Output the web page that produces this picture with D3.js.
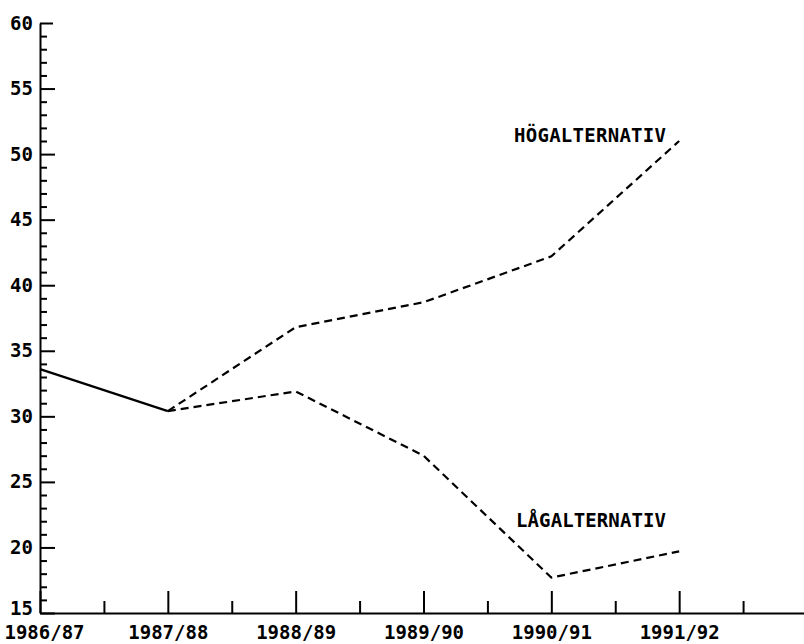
<!DOCTYPE html>
<html>
<head>
<meta charset="utf-8">
<script src="https://cdn.jsdelivr.net/npm/d3@7"></script>
<style>
  body { margin: 0; background: #fff; }
  svg text { font-family: "DejaVu Sans Mono", monospace; font-weight: bold; fill: #000; }
  .axis path, .axis line { stroke: #000; stroke-width: 2px; }
</style>
</head>
<body>
<svg width="804" height="644"></svg>
<script>
// values
var years = ["1986/87", "1987/88", "1988/89", "1989/90", "1990/91", "1991/92"];
var actual = [33.6, 30.4];
var hog = [null, 30.4, 36.8, 38.7, 42.2, 51.0];
var lag = [null, 30.4, 31.9, 27.0, 17.7, 19.7];
var yTicks = [15, 20, 25, 30, 35, 40, 45, 50, 55, 60];

var svg = d3.select("svg");

var x = d3.scaleLinear().domain([0, 6]).range([40, 807]),
    y = d3.scaleLinear().domain([15, 60]).range([613, 23]);

// minor ticks first
svg.append("g")
    .attr("class", "axis")
    .attr("transform", "translate(0,613)")
    .call(d3.axisBottom(x).tickValues(d3.range(0.5, 6, 1)).tickSizeInner(-12).tickSizeOuter(0).tickFormat(""))
    .select(".domain").remove();

svg.append("g")
    .attr("class", "axis")
    .attr("transform", "translate(40,0)")
    .call(d3.axisLeft(y).tickValues(d3.range(16, 60, 1).filter(function (v) { return v % 5 !== 0; }))
        .tickSizeInner(-7).tickSizeOuter(0).tickFormat(""))
    .select(".domain").remove();

var xAxis = svg.append("g")
    .attr("class", "axis")
    .attr("transform", "translate(0,613)")
    .call(d3.axisBottom(x).tickValues(d3.range(0, 6)).tickSizeInner(-22).tickSizeOuter(0).tickPadding(13)
        .tickFormat(function (i) { return years[i]; }));
xAxis.selectAll("text").style("font-size", "19px");
xAxis.select(".tick text").attr("dx", 4);

var yAxis = svg.append("g")
    .attr("class", "axis")
    .attr("transform", "translate(40,0)")
    .call(d3.axisLeft(y).tickValues(yTicks).tickSizeInner(-15).tickSizeOuter(0).tickPadding(7));
yAxis.selectAll("text").style("font-size", "19px");
yAxis.select(".tick text").attr("dy", "0.1em");
yAxis.select(".tick:last-of-type line").attr("x2", 13);

var line = d3.line()
    .defined(function (d) { return d != null; })
    .x(function (d, i) { return x(i); })
    .y(function (d) { return y(d); });

svg.append("path")
    .attr("d", line(actual))
    .attr("fill", "none")
    .attr("stroke", "#000")
    .attr("stroke-width", 2.2);

[hog, lag].forEach(function (s) {
    svg.append("path")
        .attr("d", line(s))
        .attr("fill", "none")
        .attr("stroke", "#000")
        .attr("stroke-width", 2.2)
        .attr("stroke-dasharray", "8,5");
});

svg.append("text")
    .attr("x", 514).attr("y", 142)
    .style("font-size", "19px")
    .attr("textLength", 152)
    .text("HÖGALTERNATIV");

svg.append("text")
    .attr("x", 516).attr("y", 527)
    .style("font-size", "19px")
    .attr("textLength", 150)
    .text("LÅGALTERNATIV");
</script>
</body>
</html>
